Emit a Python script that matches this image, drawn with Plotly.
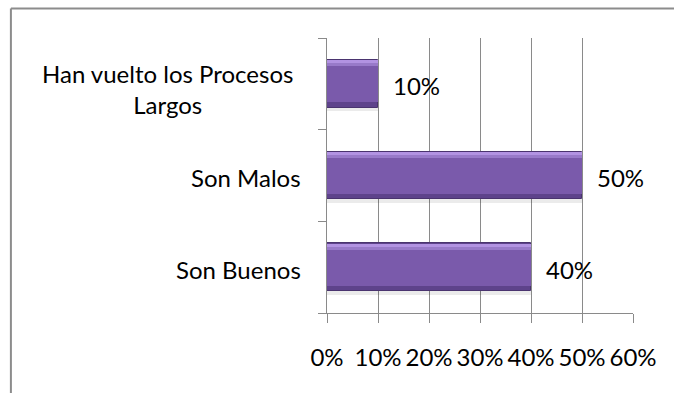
import plotly.graph_objects as go

# Survey answers and their shares
categories = ["Son Buenos", "Son Malos", "Han vuelto los Procesos Largos"]
category_labels = ["Son Buenos", "Son Malos", "Han vuelto los Procesos<br>Largos"]
shares = [0.40, 0.50, 0.10]
value_labels = ["40%", "50%", "10%"]
x_ticks = [0, 0.1, 0.2, 0.3, 0.4, 0.5, 0.6]

FONT = "Lato"
FSIZE = 24
GRID = "#8a8a8a"

fig = go.Figure()

# soft drop shadow under each bar
fig.add_trace(go.Bar(y=categories, x=shares, orientation="h", width=0.05, offset=-0.30,
                     marker=dict(color="rgba(0,0,0,0.08)", line=dict(width=0)),
                     hoverinfo="skip", showlegend=False))
# bar body with dark bevel edge
fig.add_trace(go.Bar(y=categories, x=shares, orientation="h", width=0.52, offset=-0.26,
                     marker=dict(color="#5E438B", line=dict(color="#4A346F", width=1)),
                     showlegend=False))
# main face
fig.add_trace(go.Bar(y=categories, x=shares, orientation="h", width=0.42, offset=-0.20,
                     marker=dict(color="#7A5AAB", line=dict(width=0)),
                     hoverinfo="skip", showlegend=False))
# upper bevel highlight
fig.add_trace(go.Bar(y=categories, x=shares, orientation="h", width=0.035, offset=0.222,
                     marker=dict(color="#B293E2", line=dict(width=0)),
                     hoverinfo="skip", showlegend=False))
fig.add_trace(go.Bar(y=categories, x=shares, orientation="h", width=0.035, offset=0.19,
                     marker=dict(color="#987AC9", line=dict(width=0)),
                     hoverinfo="skip", showlegend=False))

annotations = []
# value labels to the right of each bar
for cat, val, lab in zip(categories, shares, value_labels):
    annotations.append(dict(x=val, y=cat, xref="x", yref="y", text=lab, showarrow=False,
                            xanchor="left", yanchor="middle", xshift=13, yshift=-2,
                            font=dict(family=FONT, size=FSIZE, color="#000000")))
# category names, centred block left of the axis
for cat, lab in zip(categories, category_labels):
    multi = "<br>" in lab
    annotations.append(dict(x=0, y=cat, xref="paper", yref="y", text=lab, showarrow=False,
                            xanchor="right", yanchor="middle", align="center",
                            xshift=-32 if multi else -24,
                            yshift=-5 if multi else -2,
                            font=dict(family=FONT, size=FSIZE, color="#000000")))

fig.update_layout(
    width=674, height=393,
    margin=dict(l=327, r=41, t=38, b=80),
    paper_bgcolor="white", plot_bgcolor="white",
    barmode="overlay", bargap=0,
    font=dict(family=FONT, size=FSIZE, color="#000000"),
    annotations=annotations,
    shapes=[
        # outer chart frame: top and left edges
        dict(type="line", xref="paper", yref="paper", x0=-1.033, x1=1.3, y0=1.107, y1=1.107,
             line=dict(color="#8c8c8c", width=2), layer="below"),
        dict(type="line", xref="paper", yref="paper", x0=-1.033, x1=-1.033, y0=-0.5, y1=1.107,
             line=dict(color="#8c8c8c", width=2), layer="below"),
    ],
)

fig.update_xaxes(
    range=[0, 0.6], tickvals=x_ticks, tickformat=".0%", tickangle=0, automargin=False,
    showgrid=True, gridcolor=GRID, gridwidth=1,
    showline=True, linecolor=GRID, linewidth=1,
    ticks="outside", ticklen=9, tickcolor=GRID, tickwidth=1,
    ticklabelstandoff=14, zeroline=False,
    tickfont=dict(family=FONT, size=FSIZE, color="#000000"),
)
fig.update_yaxes(
    categoryorder="array", categoryarray=categories, range=[-0.5, 2.5], automargin=False,
    showticklabels=False, showgrid=False, zeroline=False,
    showline=True, linecolor=GRID, linewidth=1,
    ticks="outside", tickson="boundaries", ticklen=8, tickcolor=GRID, tickwidth=1,
)

fig.write_html("out.html")
